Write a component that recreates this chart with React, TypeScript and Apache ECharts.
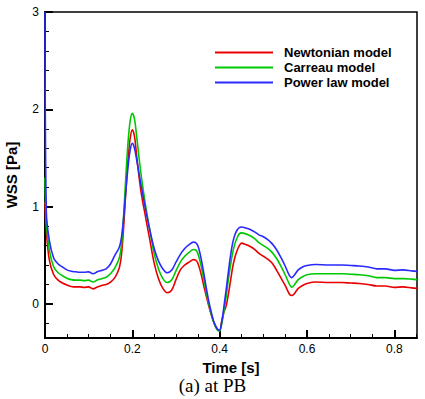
import React, { useEffect, useRef } from "react";
import * as echarts from "echarts";

const time = [0, 0.003, 0.01, 0.02, 0.03, 0.04, 0.05, 0.06, 0.07, 0.08, 0.09, 0.1, 0.11, 0.12, 0.13, 0.14, 0.15, 0.16, 0.17, 0.175, 0.18, 0.185, 0.19, 0.195, 0.2, 0.205, 0.21, 0.215, 0.22, 0.23, 0.24, 0.25, 0.26, 0.27, 0.28, 0.29, 0.3, 0.31, 0.32, 0.33, 0.34, 0.345, 0.35, 0.355, 0.36, 0.365, 0.37, 0.375, 0.38, 0.385, 0.39, 0.395, 0.4, 0.405, 0.41, 0.415, 0.42, 0.425, 0.43, 0.435, 0.44, 0.445, 0.45, 0.46, 0.47, 0.48, 0.49, 0.5, 0.51, 0.52, 0.53, 0.54, 0.55, 0.56, 0.565, 0.57, 0.58, 0.59, 0.6, 0.62, 0.65, 0.68, 0.7, 0.72, 0.74, 0.76, 0.78, 0.8, 0.82, 0.84, 0.852];

const newtonian = [1.05, 0.75, 0.45, 0.3, 0.245, 0.215, 0.195, 0.18, 0.175, 0.175, 0.17, 0.175, 0.155, 0.175, 0.19, 0.2, 0.225, 0.27, 0.37, 0.5, 0.78, 1.15, 1.48, 1.7, 1.79, 1.72, 1.52, 1.32, 1.15, 0.9, 0.66, 0.42, 0.26, 0.16, 0.115, 0.14, 0.25, 0.35, 0.4, 0.43, 0.455, 0.45, 0.42, 0.35, 0.26, 0.16, 0.07, -0.02, -0.1, -0.17, -0.22, -0.26, -0.27, -0.17, -0.08, -0.02, 0.1, 0.24, 0.38, 0.48, 0.55, 0.6, 0.625, 0.61, 0.59, 0.56, 0.52, 0.49, 0.46, 0.42, 0.35, 0.27, 0.19, 0.1, 0.086, 0.1, 0.16, 0.19, 0.21, 0.225, 0.22, 0.22, 0.215, 0.21, 0.2, 0.185, 0.185, 0.17, 0.175, 0.165, 0.16];

const carreau = [1.3, 0.85, 0.55, 0.38, 0.32, 0.29, 0.265, 0.25, 0.245, 0.245, 0.24, 0.245, 0.225, 0.245, 0.26, 0.275, 0.31, 0.37, 0.47, 0.6, 0.9, 1.3, 1.65, 1.88, 1.96, 1.9, 1.72, 1.52, 1.33, 1.02, 0.76, 0.52, 0.36, 0.26, 0.22, 0.245, 0.34, 0.43, 0.49, 0.53, 0.56, 0.555, 0.52, 0.44, 0.34, 0.22, 0.11, 0.0, -0.09, -0.17, -0.23, -0.27, -0.28, -0.2, -0.07, 0.08, 0.25, 0.4, 0.53, 0.62, 0.68, 0.72, 0.73, 0.72, 0.7, 0.67, 0.63, 0.6, 0.57, 0.53, 0.47, 0.39, 0.3, 0.2, 0.17, 0.19, 0.25, 0.28, 0.3, 0.31, 0.31, 0.31, 0.305, 0.3, 0.29, 0.27, 0.27, 0.26, 0.26, 0.255, 0.25];

const powerLaw = [3.0, 0.95, 0.65, 0.47, 0.41, 0.38, 0.35, 0.335, 0.33, 0.325, 0.325, 0.33, 0.31, 0.33, 0.345, 0.36, 0.41, 0.5, 0.58, 0.68, 0.88, 1.15, 1.4, 1.58, 1.65, 1.6, 1.48, 1.35, 1.22, 0.98, 0.76, 0.57, 0.44, 0.36, 0.32, 0.345, 0.43, 0.51, 0.57, 0.61, 0.635, 0.63, 0.6, 0.52, 0.41, 0.28, 0.15, 0.03, -0.07, -0.16, -0.22, -0.26, -0.27, -0.18, -0.02, 0.15, 0.33, 0.5, 0.63, 0.71, 0.76, 0.785, 0.79, 0.78, 0.765, 0.74, 0.71, 0.69, 0.66, 0.62, 0.56, 0.48, 0.39, 0.29, 0.27, 0.29, 0.35, 0.38, 0.395, 0.405, 0.4, 0.4, 0.395, 0.39, 0.38, 0.36, 0.36, 0.345, 0.35, 0.34, 0.335];

const seriesNames = ["Newtonian model", "Carreau model", "Power law model"];
const seriesColors = ["#e80000", "#00c800", "#2a2aff"];
const xMajorTicks = [0, 0.2, 0.4, 0.6, 0.8];
const xMinorTicks = [0.05, 0.1, 0.15, 0.25, 0.3, 0.35, 0.45, 0.5, 0.55, 0.65, 0.7, 0.75, 0.85];
const yMajorTicks = [0, 1, 2, 3];
const yMinorTicks = [-0.2, 0.2, 0.4, 0.6, 0.8, 1.2, 1.4, 1.6, 1.8, 2.2, 2.4, 2.6, 2.8];

const SANS = "'Liberation Sans', Arial, sans-serif";

export default function App() {
  const ref = useRef<HTMLDivElement>(null);
  useEffect(() => {
    if (!ref.current) return;
    const chart = echarts.init(ref.current, null, { renderer: "svg" });
    const values = [newtonian, carreau, powerLaw];
    const xMin = 0, xMax = 0.852, yMin = -0.35, yMax = 3;
    const axisLine = { show: true, onZero: false, lineStyle: { color: "#000", width: 2 } };
    chart.setOption({
      animation: false,
      backgroundColor: "#fff",
      grid: { left: 45, right: 8, top: 12, bottom: 61, outerBoundsMode: "none", containLabel: false, show: true, borderColor: "#000", borderWidth: 1.5, backgroundColor: "transparent" },
      title: {
        text: "(a) at PB",
        left: "center",
        top: 371,
        textStyle: { fontFamily: "'Liberation Serif', 'Times New Roman', serif", fontSize: 19, fontWeight: "normal", color: "#000" },
      },
      legend: {
        orient: "vertical",
        left: 210,
        top: 40,
        itemWidth: 58,
        itemHeight: 2,
        itemGap: 0,
        icon: "rect",
        data: seriesNames,
        textStyle: { fontFamily: SANS, fontSize: 13, fontWeight: "bold", color: "#000", lineHeight: 15, padding: [0, 0, 0, 6] },
      },
      xAxis: [
        {
          type: "value", min: xMin, max: xMax, position: "bottom",
          axisLine,
          axisTick: { show: true, inside: true, length: 8, customValues: xMajorTicks, lineStyle: { color: "#000", width: 2 } },
          axisLabel: { customValues: xMajorTicks, fontFamily: SANS, fontSize: 12, color: "#000", margin: 5, formatter: (v: number) => (v === 0 ? "0" : String(+v.toFixed(1))) },
          splitLine: { show: false },
          name: "Time [s]", nameLocation: "middle", nameGap: 12,
          nameTextStyle: { fontFamily: SANS, fontSize: 15, fontWeight: "bold", color: "#000" },
        },
        {
          type: "value", min: xMin, max: xMax, position: "bottom",
          axisLine: { show: false, onZero: false },
          axisTick: { show: true, inside: true, length: 4, customValues: xMinorTicks, lineStyle: { color: "#000", width: 1 } },
          axisLabel: { show: false },
          splitLine: { show: false },
        },
      ],
      yAxis: [
        {
          type: "value", min: yMin, max: yMax, position: "left",
          axisLine,
          axisTick: { show: true, inside: true, length: 8, customValues: yMajorTicks, lineStyle: { color: "#000", width: 2 } },
          axisLabel: { customValues: yMajorTicks, fontFamily: SANS, fontSize: 12, color: "#000", margin: 6 },
          splitLine: { show: false },
          name: "WSS [Pa]", nameLocation: "middle", nameGap: 26,
          nameTextStyle: { fontFamily: SANS, fontSize: 15, fontWeight: "bold", color: "#000" },
        },
        {
          type: "value", min: yMin, max: yMax, position: "left",
          axisLine: { show: false, onZero: false },
          axisTick: { show: true, inside: true, length: 4, customValues: yMinorTicks, lineStyle: { color: "#000", width: 1 } },
          axisLabel: { show: false },
          splitLine: { show: false },
        },
      ],
      series: values.map((vals, i) => ({
        name: seriesNames[i],
        type: "line",
        xAxisIndex: 0,
        yAxisIndex: 0,
        showSymbol: false,
        smooth: 0.3,
        clip: true,
        color: seriesColors[i],
        lineStyle: { color: seriesColors[i], width: 1.6 },
        data: time.map((t, k) => [t, vals[k]]),
      })),
    });
    return () => chart.dispose();
  }, []);
  return <div ref={ref} style={{ position: "fixed", left: 0, top: 0, width: 425, height: 399 }} />;
}
